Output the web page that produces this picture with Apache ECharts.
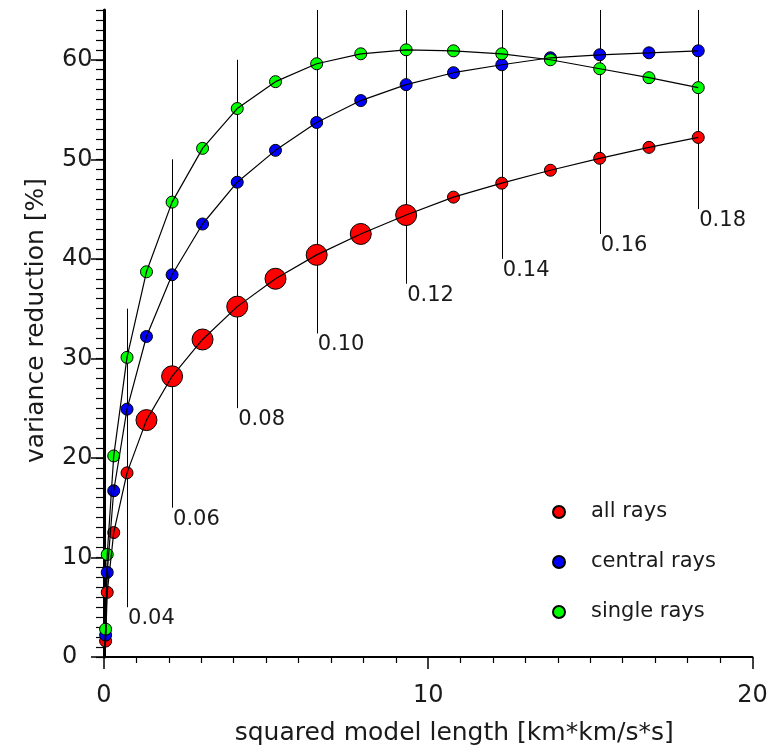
<!DOCTYPE html>
<html>
<head>
<meta charset="utf-8">
<title>Variance reduction vs squared model length</title>
<script src="https://cdn.jsdelivr.net/npm/echarts@6/dist/echarts.min.js"></script>
<style>
  html, body { margin: 0; padding: 0; background: #ffffff; }
  #chart { width: 772px; height: 751px; }
</style>
</head>
<body>
<div id="chart"></div>
<script>
// Squared model length for each damping step (first entry is the undamped origin)
const modelLength = [0, 0.05, 0.10, 0.30, 0.71, 1.31, 2.10, 3.04, 4.11, 5.29, 6.56, 7.92, 9.32, 10.78, 12.27, 13.77, 15.29, 16.81, 18.33];
// Damping parameter for each step
const damping = [0, 0.01, 0.02, 0.03, 0.04, 0.05, 0.06, 0.07, 0.08, 0.09, 0.10, 0.11, 0.12, 0.13, 0.14, 0.15, 0.16, 0.17, 0.18];

// Variance reduction [%]
const allRays     = [0, 1.6, 6.5, 12.5, 18.5, 23.8, 28.2, 31.9, 35.2, 38.0, 40.4, 42.5, 44.4, 46.2, 47.6, 48.9, 50.1, 51.2, 52.2];
const centralRays = [0, 2.2, 8.5, 16.7, 24.9, 32.2, 38.4, 43.5, 47.7, 50.9, 53.7, 55.9, 57.5, 58.7, 59.5, 60.2, 60.5, 60.7, 60.9];
const singleRays  = [0, 2.8, 10.3, 20.2, 30.1, 38.7, 45.7, 51.1, 55.1, 57.8, 59.6, 60.6, 61.0, 60.9, 60.6, 60.0, 59.1, 58.2, 57.2];

// Damping markers: model length, vertical extent and label
const markerX     = [0.71, 2.10, 4.11, 6.56, 9.32, 12.27, 15.29, 18.33];
const markerLow   = [5, 15, 25, 32.5, 37.5, 40, 42.5, 45];
const markerHigh  = [35, 50, 60, 65, 65, 65, 65, 65];
const markerLabel = ['0.04', '0.06', '0.08', '0.10', '0.12', '0.14', '0.16', '0.18'];

const xTicks = [0, 10, 20];
const yTicks = [0, 10, 20, 30, 40, 50, 60];

// Styling
const FONT = 'DejaVu Sans';
const INK = '#1a1a1a';
const SMALL = 12;
const LARGE = 21;
// damping range whose all-ray points are drawn enlarged
const LARGE_RANGE = [0.05, 0.12];

function pairs(ys) {
  return modelLength.map((x, i) => [x, ys[i], damping[i]]);
}

function markerSeries(name, ys, color, sizeFn) {
  return {
    type: 'scatter',
    name: name,
    data: pairs(ys).slice(1),
    symbol: 'circle',
    symbolSize: sizeFn || SMALL,
    itemStyle: { color: color, borderColor: '#000', borderWidth: 1, opacity: 1 },
    z: 3,
    silent: true,
    animation: false
  };
}

function pathSeries(ys) {
  return {
    type: 'line',
    data: pairs(ys),
    showSymbol: false,
    symbol: 'none',
    lineStyle: { color: '#000', width: 1.2 },
    z: 4,
    silent: true,
    animation: false
  };
}

const markerData = markerX.map((x, i) => [x, markerLow[i], markerHigh[i], markerLabel[i]]);

const chart = echarts.init(document.getElementById('chart'), null, { renderer: 'canvas' });

chart.setOption({
  backgroundColor: '#ffffff',
  animation: false,
  textStyle: { fontFamily: FONT, color: INK },
  grid: { left: 104, right: 19.6, top: 10, bottom: 91.7, containLabel: false },
  legend: {
    data: ['all rays', 'central rays', 'single rays'],
    orient: 'vertical',
    left: 547,
    top: 496,
    itemWidth: 12,
    itemHeight: 12,
    itemGap: 28,
    icon: 'circle',
    selectedMode: false,
    textStyle: { fontFamily: FONT, fontSize: 21, color: INK, lineHeight: 22, padding: [0, 0, 0, 21] }
  },
  xAxis: {
    type: 'value',
    min: 0,
    max: 20,
    interval: 10,
    name: 'squared model length [km*km/s*s]',
    nameLocation: 'middle',
    nameGap: 64,
    nameTextStyle: { fontFamily: FONT, fontSize: 25, color: INK, padding: [0, 0, 0, 52] },
    axisLine: { show: true, onZero: false, lineStyle: { color: '#000', width: 2 } },
    axisTick: { show: true, inside: false, length: 12, lineStyle: { color: '#000', width: 1.5 }, customValues: xTicks },
    minorTick: { show: true, splitNumber: 10, length: 6, lineStyle: { color: '#000', width: 1.2 } },
    axisLabel: { fontFamily: FONT, fontSize: 24, color: INK, margin: 27, customValues: xTicks },
    splitLine: { show: false },
    minorSplitLine: { show: false }
  },
  yAxis: [
    {
      type: 'value',
      min: 0,
      max: 65,
      interval: 10,
      name: 'variance reduction [%]',
      nameLocation: 'middle',
      nameGap: 55,
      nameRotate: 90,
      nameTextStyle: { fontFamily: FONT, fontSize: 25, color: INK, padding: [0, 0, 0, 26] },
      axisLine: { show: true, onZero: false, lineStyle: { color: '#000', width: 3 } },
      axisTick: { show: true, inside: false, length: 13, lineStyle: { color: '#000', width: 1.5 }, customValues: yTicks },
      axisLabel: { fontFamily: FONT, fontSize: 24, color: INK, margin: 42, align: 'left', customValues: yTicks },
      splitLine: { show: false }
    },
    {
      type: 'value',
      min: 0,
      max: 65,
      interval: 1,
      position: 'left',
      axisLine: { show: false },
      axisTick: { show: true, inside: false, length: 8, lineStyle: { color: '#000', width: 1.2 } },
      axisLabel: { show: false },
      splitLine: { show: false }
    }
  ],
  series: [
    {
      type: 'custom',
      name: 'damping',
      data: markerData,
      z: 1,
      silent: true,
      clip: false,
      renderItem: function (params, api) {
        const low = api.coord([api.value(0), api.value(1)]);
        const high = api.coord([api.value(0), api.value(2)]);
        const x = Math.round(low[0]) + 0.5;
        return {
          type: 'group',
          children: [
            {
              type: 'line',
              shape: { x1: x, y1: high[1], x2: x, y2: low[1] },
              style: { stroke: '#000', lineWidth: 1 }
            },
            {
              type: 'text',
              style: {
                x: low[0] + 1,
                y: low[1] + 1,
                text: markerLabel[params.dataIndex],
                fontFamily: FONT,
                fontSize: 21,
                fill: INK,
                align: 'left',
                verticalAlign: 'top'
              }
            }
          ]
        };
      }
    },
    markerSeries('all rays', allRays, '#ff0000', function (v) {
      return (v[2] >= LARGE_RANGE[0] - 1e-9 && v[2] <= LARGE_RANGE[1] + 1e-9) ? LARGE : SMALL;
    }),
    markerSeries('central rays', centralRays, '#0000ff'),
    markerSeries('single rays', singleRays, '#00ff00'),
    pathSeries(allRays),
    pathSeries(centralRays),
    pathSeries(singleRays)
  ]
});
</script>
</body>
</html>
